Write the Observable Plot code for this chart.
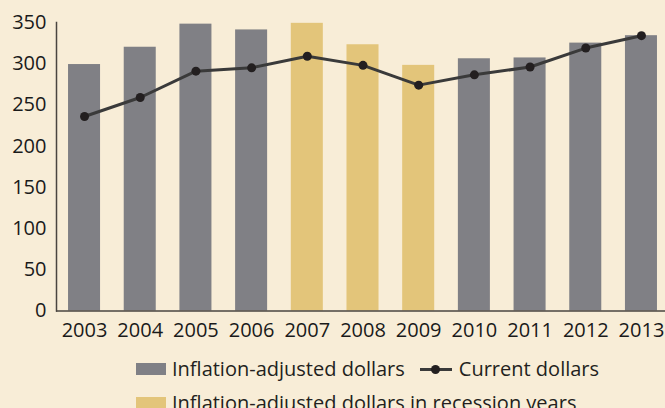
<!DOCTYPE html>
<html><head><meta charset="utf-8">
<script src="https://cdn.jsdelivr.net/npm/d3@7"></script>
<script src="https://cdn.jsdelivr.net/npm/@observablehq/plot@0.6"></script>
<style>
html,body{margin:0;padding:0;background:#F8EDD7;}
body{width:665px;height:408px;overflow:hidden;font-family:"Open Sans",sans-serif;}
#legend{position:relative;height:63px;font-size:20px;font-weight:500;color:#231f20;}
.row{position:absolute;left:136px;display:flex;align-items:center;white-space:nowrap;}
.sw{width:30px;height:12px;margin-right:6px;}
.ln{position:relative;width:32px;height:12px;margin:0 7px 0 15px;}
.ln:before{content:"";position:absolute;left:0;right:0;top:5px;height:3px;background:#3a3a3a;}
.ln:after{content:"";position:absolute;left:11px;top:2px;width:9px;height:9px;border-radius:50%;background:#231f20;}
</style></head>
<body>
<div id="chart"></div>
<div id="legend">
  <div class="row" style="top:10px"><div class="sw" style="background:#808085"></div><span>Inflation-adjusted dollars</span><div class="ln"></div><span>Current dollars</span></div>
  <div class="row" style="top:44px"><div class="sw" style="background:#E3C57A"></div><span>Inflation-adjusted dollars in recession years</span></div>
</div>
<script>
const years = ["2003","2004","2005","2006","2007","2008","2009","2010","2011","2012","2013"];
const adjusted = [299, 320, 348, 341, 349, 323, 298, 306, 307, 325, 334];
const current = [236, 259, 291, 295, 309, 298, 274, 286.5, 296, 319, 334];
const recession = ["2007","2008","2009"];
const yTicks = [0, 50, 100, 150, 200, 250, 300, 350];

const data = years.map((y, i) => ({year: y, adj: adjusted[i], cur: current[i], rec: recession.includes(y)}));

const chart = Plot.plot({
  width: 665,
  height: 345,
  marginLeft: 56,
  marginRight: 0,
  marginTop: 22,
  marginBottom: 34.5,
  style: {background: "transparent", fontFamily: "'Open Sans', sans-serif", fontSize: "20px", fontWeight: 500, color: "#1a1a1a"},
  x: {domain: years, range: [56, 669], round: false, paddingInner: 0.425, paddingOuter: 0.216, label: null},
  y: {domain: [0, 350], label: null},
  marks: [
    Plot.barY(data, {x: "year", y: "adj", fill: d => d.rec ? "#E3C57A" : "#808085"}),
    Plot.axisY({ticks: yTicks, tickSize: 0, tickPadding: 10, fontSize: 20, label: null}),
    Plot.axisX({tickSize: 0, tickPadding: 12, fontSize: 20, label: null}),
    Plot.frame({anchor: "left", stroke: "#4a4540", strokeWidth: 1.5}),
    Plot.ruleY([0], {stroke: "#4a4540", strokeWidth: 1.5}),
    Plot.lineY(data, {x: "year", y: "cur", stroke: "#3a3a3a", strokeWidth: 3}),
    Plot.dot(data, {x: "year", y: "cur", r: 4.5, fill: "#231f20"})
  ]
});
document.getElementById("chart").appendChild(chart);
</script>
</body></html>
